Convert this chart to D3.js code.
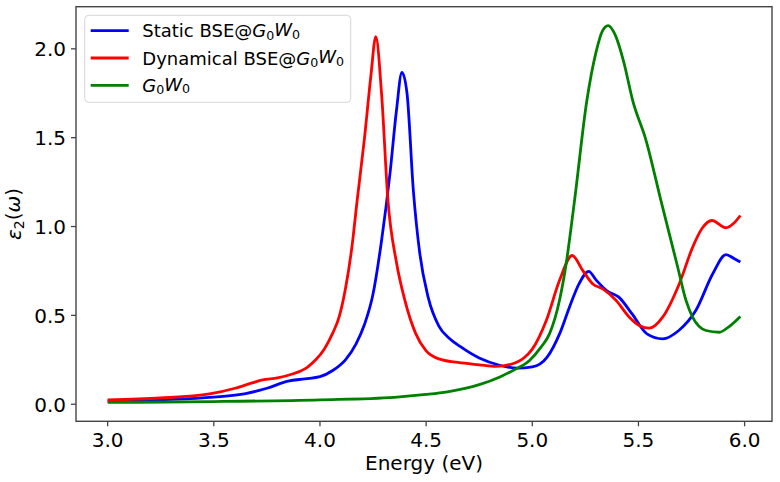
<!DOCTYPE html>
<html>
<head>
	<title>Спектр</title>
	<meta charset='utf-8'>
	<style>
		body {
			margin: 0;
			background: #fff;
		}

		text {
			font-family: 'DejaVu Sans', sans-serif;
			fill: #000;
		}

		.line {
			fill: none;
			stroke-width: 2.8px;
			stroke-linejoin: round;
		}

		.frame {
			fill: none;
			stroke: #444;
			stroke-width: 1.4px;
		}

		.tick-mark {
			stroke: #444;
			stroke-width: 1.3px;
		}
	</style>
</head>
<body>

<script src='https://d3js.org/d3.v7.min.js'></script>
<script>
	'use strict';

	// Данные
	const staticEnergy = [3.0, 3.25, 3.5, 3.65, 3.75, 3.85, 3.93, 4.0, 4.06, 4.12, 4.17, 4.21, 4.25, 4.29, 4.33, 4.36, 4.386, 4.41, 4.44, 4.47, 4.51, 4.56, 4.61, 4.66, 4.75, 4.85, 4.93, 5.0, 5.07, 5.13, 5.175, 5.22, 5.266, 5.3, 5.35, 5.41, 5.47, 5.54, 5.614, 5.69, 5.77, 5.85, 5.912, 5.95, 5.98];
	const staticValues = [0.017, 0.025, 0.04, 0.06, 0.09, 0.13, 0.143, 0.155, 0.19, 0.25, 0.34, 0.45, 0.62, 0.92, 1.3, 1.65, 1.868, 1.75, 1.2, 0.85, 0.6, 0.44, 0.37, 0.325, 0.26, 0.218, 0.203, 0.21, 0.265, 0.4, 0.546, 0.677, 0.748, 0.7, 0.64, 0.6, 0.508, 0.396, 0.368, 0.415, 0.527, 0.734, 0.842, 0.82, 0.8];

	const dynEnergy = [3.0, 3.25, 3.48, 3.6, 3.68, 3.73, 3.8, 3.87, 3.94, 3.98, 4.02, 4.06, 4.09, 4.12, 4.15, 4.175, 4.21, 4.24, 4.263, 4.29, 4.32, 4.36, 4.4, 4.45, 4.5, 4.56, 4.65, 4.75, 4.83, 4.9, 4.96, 5.0, 5.066, 5.128, 5.188, 5.238, 5.285, 5.332, 5.395, 5.457, 5.504, 5.551, 5.614, 5.692, 5.755, 5.8, 5.846, 5.912, 5.95, 5.98];
	const dynValues = [0.025, 0.035, 0.058, 0.09, 0.12, 0.137, 0.148, 0.17, 0.208, 0.25, 0.31, 0.4, 0.49, 0.65, 0.88, 1.145, 1.5, 1.85, 2.069, 1.75, 1.15, 0.8, 0.584, 0.4, 0.3, 0.255, 0.235, 0.222, 0.213, 0.225, 0.26, 0.31, 0.471, 0.696, 0.837, 0.752, 0.677, 0.649, 0.584, 0.49, 0.443, 0.428, 0.49, 0.677, 0.883, 0.99, 1.034, 0.993, 1.02, 1.062];

	const gwEnergy = [3.0, 3.5, 4.0, 4.35, 4.5, 4.6, 4.75, 4.85, 4.909, 4.987, 5.04, 5.081, 5.128, 5.157, 5.199, 5.257, 5.3, 5.33, 5.357, 5.39, 5.43, 5.473, 5.536, 5.606, 5.685, 5.724, 5.755, 5.818, 5.88, 5.93, 5.98];
	const gwValues = [0.01, 0.015, 0.025, 0.039, 0.055, 0.07, 0.11, 0.155, 0.19, 0.246, 0.32, 0.396, 0.584, 0.771, 1.146, 1.709, 1.98, 2.1, 2.131, 2.08, 1.93, 1.709, 1.484, 1.146, 0.771, 0.584, 0.49, 0.415, 0.405, 0.44, 0.494];

	const xTicks = [3.0, 3.5, 4.0, 4.5, 5.0, 5.5, 6.0];
	const yTicks = [0.0, 0.5, 1.0, 1.5, 2.0];
	const seriesNames = ['Static BSE@', 'Dynamical BSE@', ''];
	const seriesColors = ['#0000ff', '#ff0000', '#008000'];

	const width = 780;
	const height = 482;
	const plot = {left: 76, right: 772, top: 6.7, bottom: 421.3};

	const series = [
		{name: seriesNames[0], color: seriesColors[0], points: d3.zip(staticEnergy, staticValues)},
		{name: seriesNames[1], color: seriesColors[1], points: d3.zip(dynEnergy, dynValues)},
		{name: seriesNames[2], color: seriesColors[2], points: d3.zip(gwEnergy, gwValues)}
	];

	const allPoints = d3.merge(series.map(function(s) {return s.points;}));

	// Отступы как в matplotlib: 5% с каждой стороны
	function padded(ext) {
		const pad = (ext[1] - ext[0]) * 0.05;
		return [ext[0] - pad, ext[1] + pad];
	}

	const xScale = d3.scaleLinear()
		.domain(padded(d3.extent(allPoints, function(d) {return d[0];})))
		.range([plot.left, plot.right]);
	const yScale = d3.scaleLinear()
		.domain(padded(d3.extent(allPoints, function(d) {return d[1];})))
		.range([plot.bottom, plot.top]);

	const svg = d3.select('body').append('svg')
		.attr('width', width)
		.attr('height', height);

	const line = d3.line()
		.x(function(d) {return xScale(d[0]);})
		.y(function(d) {return yScale(d[1]);})
		.curve(d3.curveMonotoneX);

	svg.append('defs').append('clipPath')
		.attr('id', 'clip')
		.append('rect')
		.attr('x', plot.left)
		.attr('y', plot.top)
		.attr('width', plot.right - plot.left)
		.attr('height', plot.bottom - plot.top);

	svg.append('g')
		.attr('clip-path', 'url(#clip)')
		.selectAll('.line')
		.data(series)
		.enter()
		.append('path')
		.attr('class', 'line')
		.attr('stroke', function(d) {return d.color;})
		.attr('d', function(d) {return line(d.points);});

	svg.append('rect')
		.attr('class', 'frame')
		.attr('x', plot.left)
		.attr('y', plot.top)
		.attr('width', plot.right - plot.left)
		.attr('height', plot.bottom - plot.top);

	// Ось X
	const xAxis = svg.append('g');
	xAxis.selectAll('line')
		.data(xTicks)
		.enter()
		.append('line')
		.attr('class', 'tick-mark')
		.attr('x1', function(d) {return xScale(d);})
		.attr('x2', function(d) {return xScale(d);})
		.attr('y1', plot.bottom)
		.attr('y2', plot.bottom + 5);
	xAxis.selectAll('text')
		.data(xTicks)
		.enter()
		.append('text')
		.attr('x', function(d) {return xScale(d);})
		.attr('y', 446.5)
		.attr('text-anchor', 'middle')
		.style('font-size', '20px')
		.text(function(d) {return d3.format('.1f')(d);});

	svg.append('text')
		.attr('x', (plot.left + plot.right) / 2)
		.attr('y', 469.5)
		.attr('text-anchor', 'middle')
		.style('font-size', '20px')
		.text('Energy (eV)');

	// Ось Y
	const yAxis = svg.append('g');
	yAxis.selectAll('line')
		.data(yTicks)
		.enter()
		.append('line')
		.attr('class', 'tick-mark')
		.attr('x1', plot.left - 5)
		.attr('x2', plot.left)
		.attr('y1', function(d) {return yScale(d);})
		.attr('y2', function(d) {return yScale(d);});
	yAxis.selectAll('text')
		.data(yTicks)
		.enter()
		.append('text')
		.attr('x', 66)
		.attr('y', function(d) {return yScale(d) + 7.3;})
		.attr('text-anchor', 'end')
		.style('font-size', '20px')
		.text(function(d) {return d3.format('.1f')(d);});

	const yLabel = svg.append('text')
		.attr('transform', 'translate(' + 21 + ',' + (plot.top + plot.bottom) / 2 + ') rotate(-90)')
		.attr('text-anchor', 'middle')
		.style('font-size', '20px');
	yLabel.append('tspan').style('font-style', 'italic').text('ε');
	yLabel.append('tspan').attr('dy', '0.22em').style('font-size', '14px').text('2');
	yLabel.append('tspan').attr('dy', '-0.22em').text('(');
	yLabel.append('tspan').style('font-style', 'italic').text('ω');
	yLabel.append('tspan').text(')');

	// Легенда
	const legend = svg.append('g');
	legend.append('rect')
		.attr('x', 84.7)
		.attr('y', 15.3)
		.attr('width', 266)
		.attr('height', 87)
		.attr('rx', 4)
		.attr('fill', '#fff')
		.attr('fill-opacity', 0.8)
		.attr('stroke', '#d6d6d6')
		.attr('stroke-width', 1);

	const items = legend.selectAll('.item')
		.data(series)
		.enter()
		.append('g')
		.attr('class', 'item')
		.attr('transform', function(d, i) {return 'translate(0,' + (30.7 + i * 27.3) + ')';});

	items.append('line')
		.attr('x1', 90.7)
		.attr('x2', 128.7)
		.attr('stroke', function(d) {return d.color;})
		.attr('stroke-width', 2.8);

	items.each(function(d) {
		const t = d3.select(this).append('text')
			.attr('x', 142.3)
			.attr('y', 6.5)
			.style('font-size', '18px');
		if (d.name) t.append('tspan').text(d.name);
		t.append('tspan').style('font-style', 'italic').text('G');
		t.append('tspan').attr('dy', '0.2em').style('font-size', '12.6px').text('0');
		t.append('tspan').attr('dy', '-0.2em').style('font-style', 'italic').text('W');
		t.append('tspan').attr('dy', '0.2em').style('font-size', '12.6px').text('0');
	});
</script>
</body>
</html>
